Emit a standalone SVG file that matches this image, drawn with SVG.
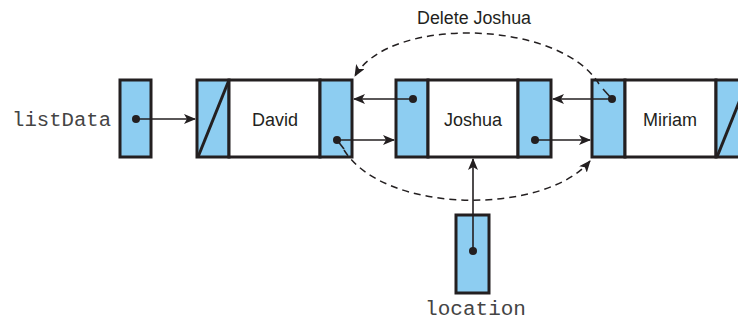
<svg xmlns="http://www.w3.org/2000/svg" width="738" height="322" viewBox="0 0 738 322">
<style>
.cell{fill:#8DCDF1;stroke:#231f20;stroke-width:3}
.data{fill:#ffffff;stroke:#231f20;stroke-width:3}
.ptr{stroke:#231f20;stroke-width:1.6;fill:none}
.dash{stroke:#231f20;stroke-width:1.5;fill:none;stroke-dasharray:7 5}
.dot{fill:#231f20}
.name{font-family:"Liberation Sans",Arial,sans-serif;font-size:18px;fill:#231f20;text-anchor:middle}
.mono{font-family:"Liberation Mono","Courier New",monospace;font-size:20px;fill:#444444}
</style>
<defs>
<marker id="ah" viewBox="0 0 12 10" refX="11" refY="5" markerWidth="12" markerHeight="10" markerUnits="userSpaceOnUse" orient="auto">
<path d="M0,0 L12,5 L0,10 L3,5 z" fill="#231f20"/>
</marker>
</defs>
<g id="title"><text class="name" x="474" y="24" textLength="114" lengthAdjust="spacingAndGlyphs">Delete Joshua</text></g>
<g id="listData">
<text class="mono" x="12" y="126" textLength="99" lengthAdjust="spacingAndGlyphs">listData</text>
<rect class="cell" x="120" y="80" width="31" height="77"/>
</g>
<g id="david">
<rect class="cell" x="197" y="80" width="32" height="77"/>
<line x1="229" y1="80" x2="198" y2="157" stroke="#231f20" stroke-width="3"/>
<rect class="data" x="229" y="80" width="91" height="77"/>
<rect class="cell" x="320" y="80" width="32" height="77"/>
<text class="name" x="275" y="126">David</text>
</g>
<g id="joshua">
<rect class="cell" x="396" y="80" width="32" height="77"/>
<rect class="data" x="428" y="80" width="90" height="77"/>
<rect class="cell" x="518" y="80" width="33" height="77"/>
<text class="name" x="473" y="126">Joshua</text>
</g>
<g id="miriam">
<rect class="cell" x="592" y="80" width="33" height="77"/>
<rect class="data" x="625" y="80" width="91" height="77"/>
<rect class="cell" x="716" y="80" width="32" height="77"/>
<line x1="717" y1="157" x2="748" y2="80" stroke="#231f20" stroke-width="3"/>
<text class="name" x="670" y="126">Miriam</text>
</g>
<g id="location">
<rect class="cell" x="456" y="215" width="33" height="78"/>
<text class="mono" x="425" y="315" textLength="101" lengthAdjust="spacingAndGlyphs">location</text>
</g>
<g id="connectors">
<line class="ptr" x1="136" y1="119" x2="195" y2="119" marker-end="url(#ah)"/>
<line class="ptr" x1="337" y1="140" x2="394" y2="140" marker-end="url(#ah)"/>
<line class="ptr" x1="413" y1="99" x2="354" y2="99" marker-end="url(#ah)"/>
<line class="ptr" x1="535" y1="140" x2="590" y2="140" marker-end="url(#ah)"/>
<line class="ptr" x1="612" y1="99" x2="553" y2="99" marker-end="url(#ah)"/>
<line class="ptr" x1="473" y1="251" x2="473" y2="159" marker-end="url(#ah)"/>
<line class="ptr" x1="337" y1="140" x2="344" y2="149"/>
<line class="ptr" x1="612" y1="99" x2="603" y2="89"/>
<path class="dash" d="M599,84 C560,20 390,15 355,76" marker-end="url(#ah)"/>
<path class="dash" d="M344,150 C385,215 545,215 590,161" marker-end="url(#ah)"/>
<circle class="dot" cx="136" cy="119" r="4"/>
<circle class="dot" cx="337" cy="140" r="4"/>
<circle class="dot" cx="413" cy="99" r="4"/>
<circle class="dot" cx="535" cy="140" r="4"/>
<circle class="dot" cx="612" cy="99" r="4"/>
<circle class="dot" cx="473" cy="251" r="4"/>
</g>
</svg>
